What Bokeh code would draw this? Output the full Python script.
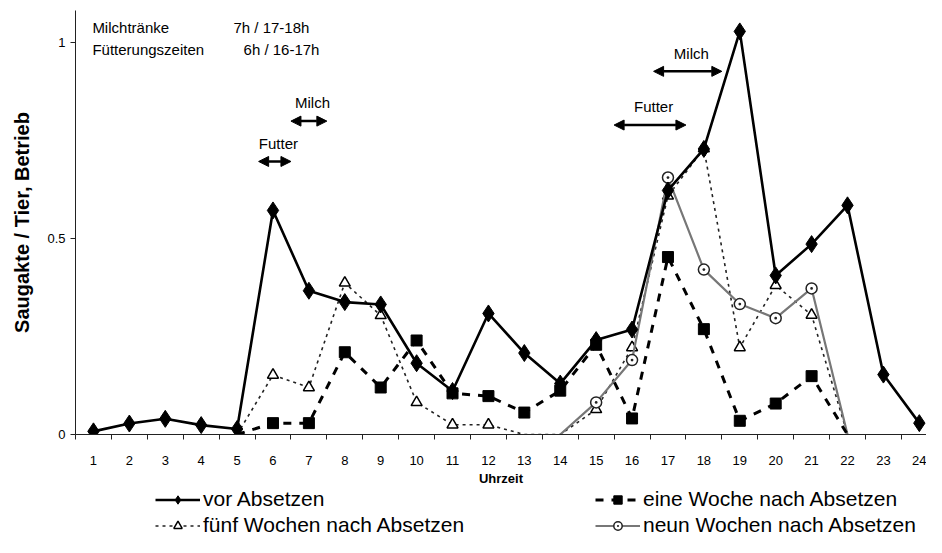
import numpy as np
from bokeh.plotting import figure
from bokeh.layouts import column
from bokeh.models import (ColumnDataSource, FixedTicker, Legend, LegendItem, Label,
                          Arrow, NormalHead, Range1d)
from bokeh.embed import file_html
from bokeh.resources import INLINE

nan = float("nan")
hours = list(range(1, 25))
vor_absetzen = [0.008, 0.028, 0.040, 0.024, 0.014, 0.572, 0.367, 0.338, 0.332, 0.182, 0.111, 0.309,
                0.208, 0.130, 0.241, 0.268, 0.623, 0.729, 1.029, 0.406, 0.486, 0.585, 0.153, 0.029]
eine_woche = [nan, nan, nan, nan, 0.0, 0.029, 0.029, 0.21, 0.12, 0.24, 0.105, 0.098,
              0.056, 0.112, 0.229, 0.041, 0.453, 0.269, 0.035, 0.079, 0.149, 0.0, nan, nan]
fuenf_wochen = [nan, nan, nan, nan, 0.0, 0.152, 0.12, 0.387, 0.304, 0.082, 0.025, 0.025,
                0.0, 0.0, 0.064, 0.222, 0.609, 0.73, 0.222, 0.381, 0.305, 0.0, nan, nan]
neun_wochen = [nan, nan, nan, nan, nan, nan, nan, nan, nan, nan, nan, nan,
               nan, 0.0, 0.082, 0.19, 0.656, 0.421, 0.333, 0.297, 0.373, 0.0, nan, nan]
series_names = ["vor Absetzen", "eine Woche nach Absetzen",
                "fünf Wochen nach Absetzen", "neun Wochen nach Absetzen"]

info_lines = [("Milchtränke", "7h / 17-18h", 1.04), ("Fütterungszeiten", "6h / 16-17h", 0.982)]
# (label, start hour, end hour, arrow level)
time_marks = [("Futter", 5.6, 6.5, 0.697), ("Milch", 6.5, 7.5, 0.80),
              ("Futter", 15.5, 17.5, 0.79), ("Milch", 16.6, 18.5, 0.927)]

W = 926
H_MAIN, H_LEG = 488, 49
FONT = "Liberation Sans"

p = figure(width=W, height=H_MAIN, output_backend="svg", toolbar_location=None,
           x_range=Range1d(0.5, 24.2), y_range=Range1d(0, 1.0824),
           min_border_left=75, min_border_right=0, min_border_top=10, min_border_bottom=51)
p.outline_line_color = None
p.xgrid.grid_line_color = None
p.ygrid.grid_line_color = None
p.background_fill_color = "white"

def marker_src(vals):
    xs = [h for h, v in zip(hours, vals) if v == v and v > 0]
    ys = [v for h, v in zip(hours, vals) if v == v and v > 0]
    return ColumnDataSource(dict(x=xs, y=ys))

STY = {
    "fuenf": (dict(line_color="#222222", line_width=1.6, line_dash="3 4"),
              dict(marker="triangle", size=11, fill_color="white", line_color="black", line_width=1.5)),
    "neun": (dict(line_color="#777777", line_width=2.2),
             dict(marker="circle_dot", size=11, fill_color="white", line_color="#222222", line_width=1.5)),
    "eine": (dict(line_color="black", line_width=3, line_dash="8 8"),
             dict(marker="square", size=11, fill_color="black", line_color="black")),
    "vor": (dict(line_color="black", line_width=2.6),
            dict(marker="diamond", size=17, fill_color="black", line_color="black")),
}
DATA = {"fuenf": fuenf_wochen, "neun": neun_wochen, "eine": eine_woche, "vor": vor_absetzen}

for key in ["fuenf", "neun", "eine", "vor"]:
    ls, ms = STY[key]
    p.line(hours, DATA[key], **ls)
    p.scatter("x", "y", source=marker_src(DATA[key]), **ms)

# axes
p.xaxis.ticker = FixedTicker(ticks=hours, minor_ticks=[h - 0.5 for h in hours] + [24.5])
p.xaxis.major_tick_out = 0
p.xaxis.major_tick_in = 0
p.xaxis.minor_tick_out = 5
p.xaxis.minor_tick_in = 0
p.xaxis.major_label_text_font = FONT
p.xaxis.major_label_text_font_size = "13px"
p.xaxis.major_label_standoff = 16
p.xaxis.axis_label = "Uhrzeit"
p.xaxis.axis_label_text_font = FONT
p.xaxis.axis_label_text_font_style = "bold"
p.xaxis.axis_label_text_font_size = "13px"
p.xaxis.axis_label_standoff = 3

p.yaxis.ticker = FixedTicker(ticks=[0, 0.5, 1], minor_ticks=[])
p.yaxis.major_label_overrides = {0: "0", 0.5: "0.5", 1: "1"}
p.yaxis.major_tick_out = 5
p.yaxis.major_tick_in = 0
p.yaxis.minor_tick_out = 0
p.yaxis.major_label_text_font = FONT
p.yaxis.major_label_text_font_size = "13px"
p.yaxis.axis_label = "Saugakte / Tier, Betrieb"
p.yaxis.axis_label_text_font = FONT
p.yaxis.axis_label_text_font_style = "bold"
p.yaxis.axis_label_text_font_size = "20px"
p.yaxis.axis_label_standoff = 11
for ax in (p.xaxis, p.yaxis):
    ax.axis_line_color = "#222222"
    ax.major_tick_line_color = "#222222"
    ax.minor_tick_line_color = "#222222"
    ax.major_label_text_color = "black"
    ax.axis_label_text_color = "black"

# info text
for left, right, yv in info_lines:
    p.add_layout(Label(x=0.97, y=yv, text=left, text_font=FONT, text_font_size="15px",
                       text_baseline="middle", text_color="black"))
    p.add_layout(Label(x=4.9 if left.startswith("Milch") else 5.18, y=yv, text=right,
                       text_font=FONT, text_font_size="15px", text_baseline="middle",
                       text_color="black"))

for name, x0, x1, yv in time_marks:
    p.add_layout(Arrow(x_start=x0, x_end=x1, y_start=yv, y_end=yv, line_width=2.5,
                       line_color="black",
                       start=NormalHead(size=10, fill_color="black", line_color="black"),
                       end=NormalHead(size=10, fill_color="black", line_color="black")))
    p.add_layout(Label(x=(x0 + x1) / 2 + 0.1, y=yv + 0.025, text=name, text_font=FONT,
                       text_font_size="15px", text_align="center", text_baseline="bottom",
                       text_color="black"))

# legend figure: same series drawn out of its visible range, legend inside its frame
q = figure(width=W, height=H_LEG, output_backend="svg", toolbar_location=None,
           x_range=Range1d(100, 101), y_range=Range1d(100, 101),
           min_border_left=75, min_border_right=0, min_border_top=0, min_border_bottom=0)
q.axis.visible = False
q.grid.visible = False
q.outline_line_color = None
leg_r = {}
for key in ["vor", "eine", "fuenf", "neun"]:
    ls, ms = STY[key]
    lr = q.line(hours, DATA[key], **ls)
    mr = q.scatter("x", "y", source=marker_src(DATA[key]), **ms)
    leg_r[key] = [lr, mr]

def make_legend(items, loc):
    lg = Legend(items=items, orientation="vertical", location=loc)
    lg.label_text_font = FONT
    lg.label_text_font_size = "21px"
    lg.glyph_width = 45
    lg.glyph_height = 21
    lg.label_standoff = 3
    lg.spacing = 2
    lg.padding = 0
    lg.margin = 0
    lg.border_line_color = None
    lg.background_fill_alpha = 0
    lg.label_text_color = "black"
    return lg

q.add_layout(make_legend([LegendItem(label=series_names[0], renderers=leg_r["vor"]),
                          LegendItem(label=series_names[2], renderers=leg_r["fuenf"])], (80, 0)))
q.add_layout(make_legend([LegendItem(label=series_names[1], renderers=leg_r["eine"]),
                          LegendItem(label=series_names[3], renderers=leg_r["neun"])], (520, 0)))

layout = column(p, q, spacing=0)
open("out.html", "w").write(file_html(layout, INLINE))
